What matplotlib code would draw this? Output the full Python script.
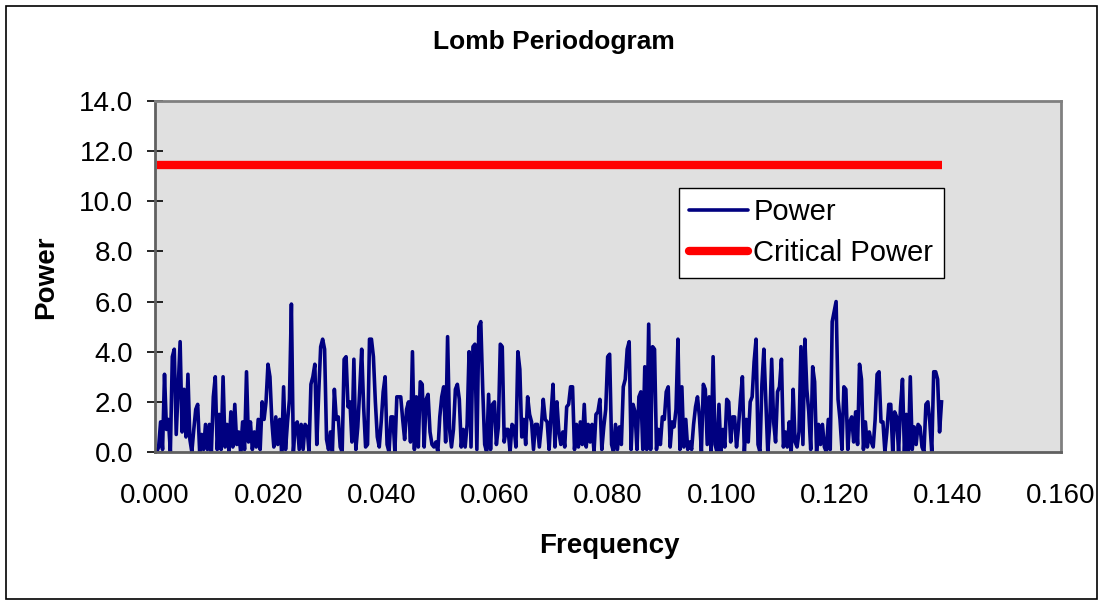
import numpy as np
import matplotlib
matplotlib.use("Agg")
from matplotlib import pyplot as plt
from matplotlib.patches import Rectangle

# -- Data --------------------------------------------------------------------

FREQ_START = 0.0003
FREQ_END = 0.1389

power = [
    # 0.000 - 0.018
    0.0, 0.2, 1.2, 0.1, 3.1, 0.9, 1.3, 0.0, 3.8, 4.1, 0.7, 2.5, 4.4, 0.8,
    2.5, 0.6, 3.1, 0.5, 0.0, 0.9, 1.7, 1.9, 0.0, 0.7, 0.1, 1.1, 0.1, 1.1,
    0.0, 2.2, 3.0, 0.1, 1.5, 0.1, 3.0, 0.2, 1.1, 0.0, 1.6, 0.2, 1.9, 0.3,
    0.8, 0.0, 1.2, 0.1, 3.2, 0.4, 1.2, 0.1, 0.8, 0.2, 1.3, 0.1, 2.0,
    # 0.018 - 0.037
    1.3, 2.0, 3.5, 3.0, 1.2, 0.2, 1.4, 0.3, 1.3, 0.0, 2.6, 0.1, 1.2, 2.1,
    5.9, 0.0, 1.1, 1.2, 0.1, 1.1, 0.1, 1.1, 1.0, 0.0, 2.7, 3.0, 3.5, 0.3,
    2.4, 4.2, 4.5, 4.1, 0.5, 0.1, 0.8, 0.0, 2.5, 1.3, 1.4, 0.2, 0.0, 3.7,
    3.8, 1.8, 2.0, 0.4, 3.7, 0.1, 1.0, 2.5, 4.1, 1.8, 0.2,
    # 0.037 - 0.056
    0.3, 4.5, 4.5, 3.8, 2.0, 0.6, 0.2, 1.2, 2.4, 3.0, 0.3, 0.0, 1.4, 1.4,
    0.0, 2.2, 2.2, 2.2, 1.3, 0.5, 1.7, 2.0, 0.4, 4.0, 0.1, 2.2, 0.2, 2.8,
    2.7, 0.2, 2.1, 2.3, 0.8, 0.3, 0.2, 0.4, 0.0, 1.4, 2.2, 2.6, 0.4, 4.6,
    0.9, 0.2, 0.9, 2.5, 2.7, 2.1, 0.2, 0.9, 0.2, 1.1, 4.0,
    # 0.056 - 0.074
    0.2, 4.2, 4.3, 0.1, 5.0, 5.2, 2.5, 0.3, 0.0, 2.3, 0.1, 1.9, 2.0, 0.3,
    1.0, 4.3, 4.2, 0.4, 0.9, 0.9, 0.0, 1.1, 1.0, 0.2, 4.0, 3.3, 0.6, 1.3,
    0.3, 2.2, 1.5, 1.2, 0.1, 1.1, 1.1, 0.2, 1.0, 2.1, 1.3, 1.2, 0.1, 1.5,
    2.7, 0.2, 2.0, 0.8, 0.3, 0.8, 0.2, 1.8, 1.9, 2.6, 2.6, 0.1,
    # 0.074 - 0.093
    1.1, 0.2, 1.2, 0.3, 1.9, 0.2, 1.1, 0.4, 1.1, 0.0, 1.5, 1.6, 2.1, 0.1,
    1.0, 1.7, 3.8, 3.9, 0.3, 0.0, 1.1, 0.1, 1.0, 0.3, 2.6, 2.9, 4.1, 4.4,
    0.1, 1.9, 1.6, 0.1, 2.2, 2.4, 0.1, 3.4, 0.1, 5.1, 0.1, 4.2, 4.1, 0.1,
    0.9, 0.3, 1.4, 1.3, 2.4, 2.6, 0.2, 1.2, 1.0, 1.7, 4.5, 0.1, 2.6,
    # 0.093 - 0.111
    0.2, 1.3, 0.1, 0.4, 0.1, 1.1, 1.8, 2.2, 1.4, 0.0, 2.7, 2.5, 0.3, 2.2,
    0.0, 3.8, 0.3, 0.0, 1.9, 0.0, 0.9, 0.2, 2.1, 2.0, 0.4, 1.4, 1.4, 0.2,
    1.0, 2.1, 3.0, 0.0, 1.3, 0.4, 2.0, 2.2, 3.6, 4.5, 0.3, 0.0, 2.7, 4.1,
    2.0, 0.0, 1.1, 3.7, 1.2, 0.4, 2.4, 2.6, 3.7, 0.2, 0.8,
    # 0.111 - 0.130
    0.2, 1.2, 0.0, 2.5, 0.4, 0.2, 0.8, 4.2, 0.3, 4.5, 2.5, 1.6, 0.1, 3.4,
    2.8, 0.0, 1.1, 0.3, 1.1, 0.2, 0.0, 1.3, 0.1, 5.2, 5.6, 6.0, 2.1, 1.3,
    0.1, 2.6, 2.5, 0.1, 1.2, 1.4, 0.4, 1.6, 0.3, 3.5, 2.9, 0.1, 1.2, 0.2,
    0.8, 0.4, 0.2, 1.3, 3.1, 3.2, 1.2, 1.2, 0.0, 0.8, 1.9,
    # 0.130 - 0.139
    1.9, 0.0, 1.6, 1.4, 0.0, 1.8, 2.9, 0.0, 1.5, 0.0, 3.0, 0.1, 1.0, 0.3,
    1.1, 1.0, 0.2, 0.0, 1.9, 2.0, 1.2, 0.0, 3.2, 3.2, 2.9, 0.8, 2.0,
]

CRITICAL_POWER = 11.43

TITLE = "Lomb Periodogram"
X_LABEL = "Frequency"
Y_LABEL = "Power"
X_TICKS = [0.0, 0.02, 0.04, 0.06, 0.08, 0.10, 0.12, 0.14, 0.16]
Y_TICKS = [0.0, 2.0, 4.0, 6.0, 8.0, 10.0, 12.0, 14.0]

# -- Figure --------------------------------------------------------------------

W, H = 1102, 604
plt.rcParams['font.family'] = ['Liberation Sans', 'DejaVu Sans']

fig = plt.figure(figsize=(W / 100, H / 100), dpi=100)
fig.patch.set_facecolor('white')

# outer chart border
fig.patches.append(Rectangle(
    (6 / W, 1 - 599 / H), (1097 - 6) / W, (599 - 6) / H,
    transform=fig.transFigure, fill=False, edgecolor='black', linewidth=1.2))

left, right, top, bottom = 155, 1061, 101, 452
ax = fig.add_axes([left / W, 1 - bottom / H, (right - left) / W, (bottom - top) / H])
ax.set_facecolor('#e0e0e0')

freq = np.linspace(FREQ_START, FREQ_END, len(power))
ax.plot(freq, power, color='#000080', linewidth=2.6, label='Power')
ax.plot([freq[0], freq[-1]], [CRITICAL_POWER, CRITICAL_POWER],
        color='#ff0000', linewidth=6, label='Critical Power',
        solid_capstyle='butt')

ax.set_xlim(0, 0.16)
ax.set_ylim(0, 14)
ax.set_xticks(X_TICKS)
ax.set_yticks(Y_TICKS)
ax.set_xticklabels(["{:.3f}".format(v) for v in X_TICKS])
ax.set_yticklabels(["{:.1f}".format(v) for v in Y_TICKS])
ax.tick_params(axis='x', length=0, pad=22, labelsize=20)
ax.tick_params(axis='y', direction='inout', length=11, width=1.2,
               color='black', pad=10, labelsize=20)

for side in ['top', 'right']:
    ax.spines[side].set_color('#808080')
    ax.spines[side].set_linewidth(2)
for side in ['left', 'bottom']:
    ax.spines[side].set_color('#606060')
    ax.spines[side].set_linewidth(2)

fig.text(554 / W, 1 - 42 / H, TITLE, ha='center', va='center',
         fontsize=19, fontweight='bold')
fig.text(609 / W, 1 - 546 / H, X_LABEL, ha='center', va='center',
         fontsize=20, fontweight='bold')
fig.text(46 / W, 1 - 277 / H, Y_LABEL, ha='center', va='center',
         fontsize=20, fontweight='bold', rotation=90)

leg = ax.legend(loc='upper left', bbox_to_anchor=(679 / W, 1 - 188 / H),
                bbox_transform=fig.transFigure, fontsize=21, frameon=True,
                fancybox=False, framealpha=1, edgecolor='black',
                borderaxespad=0, borderpad=0.35, handlelength=2.0,
                handletextpad=0.2, labelspacing=0.45)
leg.get_frame().set_linewidth(1.0)
for h in leg.get_lines():
    h.set_solid_capstyle('round')

fig.savefig('out.png', dpi=100, facecolor='white')
